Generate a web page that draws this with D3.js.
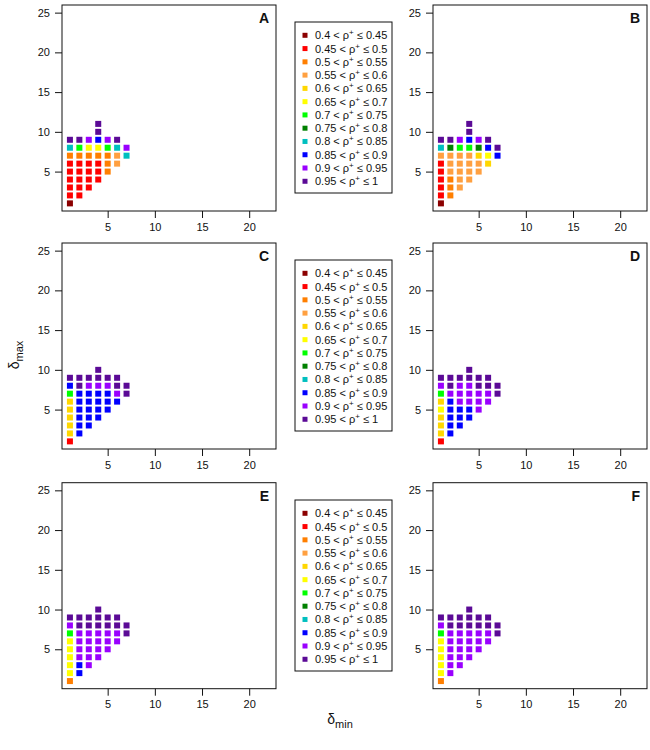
<!DOCTYPE html>
<html>
<head>
<meta charset="utf-8">
<script src="https://cdn.jsdelivr.net/npm/d3@7"></script>
<style>
  body { margin: 0; background: #fff; }
  svg text { font-family: "Liberation Sans", Arial, sans-serif; fill: #111; }
</style>
</head>
<body>
<div id="vis"></div>
<script>
// class colours, 1 = lowest bin ... 12 = highest bin
var colours = ["#8B0000", "#FF0000", "#FF7F00", "#FFA040", "#FFD700", "#FFFF00",
               "#00FF00", "#008000", "#00BFBF", "#0000FF", "#9A00FF", "#5B0A96"];
var bin_edges = ["0.4", "0.45", "0.5", "0.55", "0.6", "0.65", "0.7", "0.75", "0.8", "0.85", "0.9", "0.95", "1"];

var x_ticks = [5, 10, 15, 20];
var y_ticks = [5, 10, 15, 20, 25];

// each row is delta_max = 1, 2, ...; entries are delta_min = 1, 2, ... (0 = no point)
var panelA = [
    [1], [2, 2], [2, 2, 2], [2, 2, 2, 2], [2, 2, 2, 2, 3], [2, 2, 2, 2, 3, 4],
    [3, 3, 3, 3, 3, 4, 9], [9, 7, 6, 6, 7, 9, 11], [12, 12, 11, 10, 11, 12],
    [0, 0, 0, 12], [0, 0, 0, 12]
];
var panelB = [
    [1], [2, 3], [2, 3, 4], [2, 3, 4, 4], [2, 4, 4, 4, 4], [2, 4, 4, 4, 4, 5],
    [4, 4, 4, 4, 5, 6, 10], [9, 8, 7, 7, 8, 10, 12], [12, 12, 11, 10, 11, 12],
    [0, 0, 0, 12], [0, 0, 0, 12]
];
var panelC = [
    [2], [5, 10], [5, 10, 10], [5, 10, 10, 10], [5, 10, 10, 10, 10], [5, 10, 10, 10, 10, 10],
    [7, 10, 10, 10, 10, 11, 12], [10, 12, 11, 11, 11, 12, 12], [12, 12, 12, 12, 12, 12],
    [0, 0, 0, 12]
];
var panelD = [
    [2], [5, 10], [5, 10, 10], [5, 10, 10, 10], [6, 10, 10, 10, 11], [5, 10, 11, 11, 11, 11],
    [7, 11, 11, 11, 11, 11, 12], [11, 12, 11, 11, 12, 12, 12], [12, 12, 12, 12, 12, 12],
    [0, 0, 0, 12]
];
var panelE = [
    [3], [6, 10], [6, 10, 11], [6, 11, 11, 11], [6, 11, 11, 11, 11], [6, 11, 11, 11, 11, 11],
    [7, 11, 11, 11, 11, 11, 12], [11, 12, 12, 12, 12, 12, 12], [12, 12, 12, 12, 12, 12],
    [0, 0, 0, 12]
];
var panelF = [
    [3], [6, 11], [6, 11, 11], [6, 11, 11, 11], [6, 11, 11, 11, 11], [6, 11, 11, 11, 11, 11],
    [7, 11, 11, 11, 11, 11, 12], [11, 12, 12, 12, 12, 12, 12], [12, 12, 12, 12, 12, 12],
    [0, 0, 0, 12]
];

var panels = [
    { label: 'A', rows: panelA, left: 62, top: 5 },
    { label: 'B', rows: panelB, left: 433, top: 5 },
    { label: 'C', rows: panelC, left: 62, top: 243 },
    { label: 'D', rows: panelD, left: 433, top: 243 },
    { label: 'E', rows: panelE, left: 62, top: 482.7 },
    { label: 'F', rows: panelF, left: 433, top: 482.7 }
];
var legend_tops = [22, 260, 500];

var pw = 214, ph = 206;

var svg = d3.select('#vis')
    .append('svg')
    .attr('width', 650)
    .attr('height', 750);

var x_scale = d3.scaleLinear()
    .domain([1 - 0.84, 22 + 0.84])
    .range([0, pw]);

var y_scale = d3.scaleLinear()
    .domain([1 - 0.96, 25 + 0.96])
    .range([ph, 0]);

var x_axis = d3.axisBottom(x_scale).tickValues(x_ticks).tickSize(7).tickSizeOuter(0).tickPadding(5);
var y_axis = d3.axisLeft(y_scale).tickValues(y_ticks).tickSize(7).tickSizeOuter(0).tickPadding(5);

panels.forEach(function(p) {
    var g = svg.append('g')
        .attr('transform', 'translate(' + p.left + ',' + p.top + ')');

    var pts = [];
    p.rows.forEach(function(row, i) {
        row.forEach(function(c, j) {
            if (c > 0) pts.push({ dmin: j + 1, dmax: i + 1, cls: c });
        });
    });

    var s = 6;
    g.selectAll('.pt')
        .data(pts)
        .enter()
        .append('rect')
        .attr('class', 'pt')
        .attr('x', function(d) { return x_scale(d.dmin) - s / 2; })
        .attr('y', function(d) { return y_scale(d.dmax) - s / 2; })
        .attr('width', s)
        .attr('height', s)
        .attr('fill', function(d) { return colours[d.cls - 1]; });

    var xa = g.append('g')
        .attr('transform', 'translate(0,' + ph + ')')
        .call(x_axis);
    var ya = g.append('g').call(y_axis);
    [xa, ya].forEach(function(a) {
        a.select('.domain').remove();
        a.selectAll('text').style('font-size', '11px').style('font-family', '"Liberation Sans", Arial, sans-serif').attr('fill', '#111');
        a.selectAll('line').attr('stroke', '#111');
    });

    g.append('rect')
        .attr('x', 0).attr('y', 0)
        .attr('width', pw).attr('height', ph)
        .attr('fill', 'none')
        .attr('stroke', '#111')
        .attr('stroke-width', 1);

    g.append('text')
        .attr('x', pw - 7)
        .attr('y', 18)
        .attr('text-anchor', 'end')
        .style('font-size', '14px')
        .style('font-weight', 'bold')
        .text(p.label);
});

legend_tops.forEach(function(top) {
    var lg = svg.append('g')
        .attr('transform', 'translate(295,' + top + ')');
    lg.append('rect')
        .attr('width', 97).attr('height', 171)
        .attr('fill', '#fff')
        .attr('stroke', '#111');
    colours.forEach(function(c, i) {
        var cy = 13.3 + i * 13.27;
        lg.append('rect')
            .attr('x', 7.5).attr('y', cy - 2.5)
            .attr('width', 5).attr('height', 5)
            .attr('fill', c);
        var t = lg.append('text')
            .attr('x', 20)
            .attr('y', cy + 4)
            .style('font-size', '11px');
        t.append('tspan').text(bin_edges[i] + ' < \u03C1');
        t.append('tspan').attr('dy', -4).style('font-size', '8px').text('+');
        t.append('tspan').attr('dy', 4).text(' \u2264 ' + bin_edges[i + 1]);
    });
});

// axis titles
var yl = svg.append('text')
    .attr('transform', 'translate(19,355) rotate(-90)')
    .attr('text-anchor', 'middle')
    .style('font-size', '14px');
yl.append('tspan').text('\u03B4');
yl.append('tspan').attr('dy', 4).style('font-size', '11px').text('max');

var xl = svg.append('text')
    .attr('x', 340)
    .attr('y', 724)
    .attr('text-anchor', 'middle')
    .style('font-size', '14px');
xl.append('tspan').text('\u03B4');
xl.append('tspan').attr('dy', 4).style('font-size', '11px').text('min');
</script>
</body>
</html>
